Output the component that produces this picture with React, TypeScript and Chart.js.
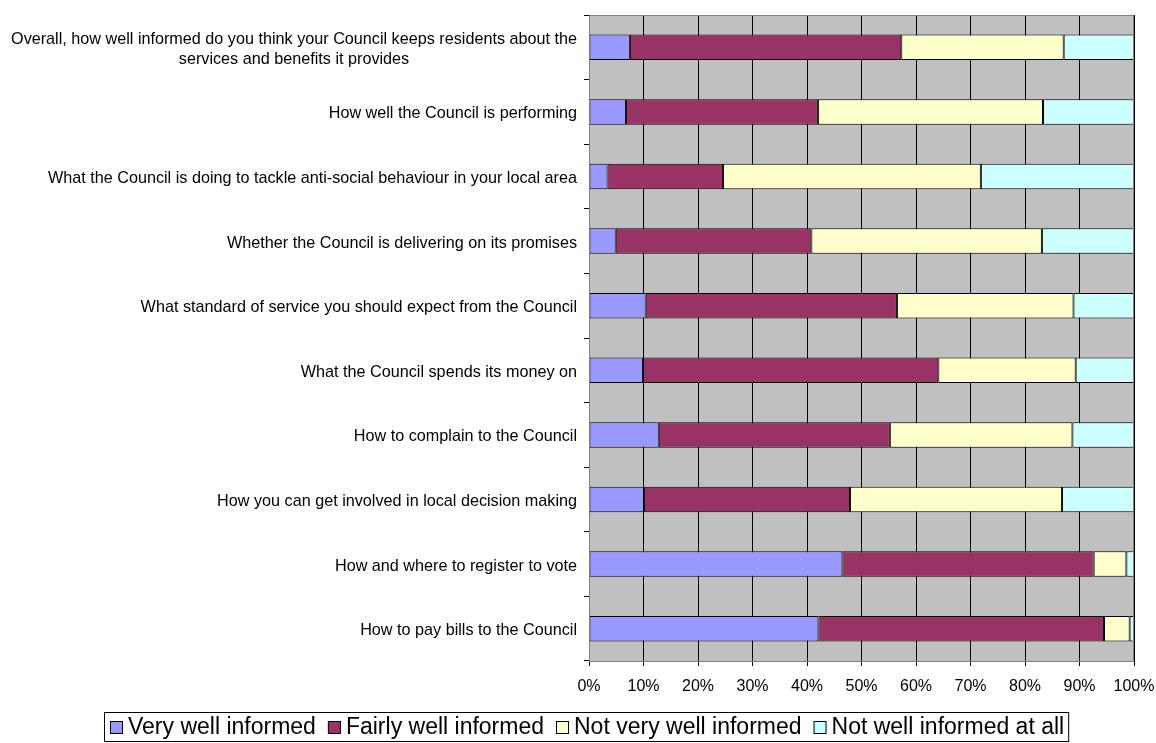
import React, { useEffect, useRef } from "react";
import { Chart, registerables } from "chart.js";

Chart.register(...registerables);

const categories: string[][] = [
  ["Overall, how well informed do you think your Council keeps residents about the", "services and benefits it provides"],
  ["How well the Council is performing"],
  ["What the Council is doing to tackle anti-social behaviour in your local area"],
  ["Whether the Council is delivering on its promises"],
  ["What standard of service you should expect from the Council"],
  ["What the Council spends its money on"],
  ["How to complain to the Council"],
  ["How you can get involved in local decision making"],
  ["How and where to register to vote"],
  ["How to pay bills to the Council"],
];

const veryWell = [7.5, 6.8, 3.4, 4.9, 10.4, 9.9, 12.8, 10.1, 46.5, 42.1];
const fairlyWell = [49.8, 35.2, 21.2, 35.9, 46.1, 54.2, 42.4, 37.8, 46.1, 52.4];
const notVeryWell = [29.8, 41.3, 47.3, 42.3, 32.4, 25.2, 33.5, 38.9, 6.0, 4.7];
const notAtAll = [12.9, 16.7, 28.1, 16.9, 11.1, 10.7, 11.3, 13.2, 1.4, 0.8];

const seriesNames = ["Very well informed", "Fairly well informed", "Not very well informed", "Not well informed at all"];
const seriesColors = ["#9999FF", "#993366", "#FFFFCC", "#CCFFFF"];
const xTicks = [0, 10, 20, 30, 40, 50, 60, 70, 80, 90, 100];

const FONT = "'Liberation Sans', Arial, sans-serif";
const LABEL_SIZE = 16.2;
const TICK_SIZE = 16;
const LEGEND_SIZE = 23;

const bgPlugin = {
  id: "plotBg",
  beforeDraw(chart: any) {
    const { ctx, chartArea: a } = chart;
    ctx.save();
    ctx.fillStyle = "#C0C0C0";
    ctx.fillRect(a.left, a.top, a.right - a.left, a.bottom - a.top);
    ctx.restore();
  },
  afterDraw(chart: any) {
    const { ctx, chartArea: a } = chart;
    ctx.save();
    ctx.strokeStyle = "#808080";
    ctx.lineWidth = 1;
    ctx.strokeRect(a.left + 0.5, a.top + 0.5, a.right - a.left - 1, a.bottom - a.top);
    // category labels
    const yScale = chart.scales.y;
    ctx.font = `${LABEL_SIZE}px ${FONT}`;
    ctx.fillStyle = "#000";
    ctx.textBaseline = "middle";
    ctx.textAlign = "center";
    const rightEdge = a.left - 12;
    const lineH = 20;
    categories.forEach((lines, i) => {
      const cy = yScale.getPixelForValue(i) + 2;
      const maxW = Math.max(...lines.map((l) => ctx.measureText(l).width));
      const cx = rightEdge - maxW / 2;
      const y0 = cy - ((lines.length - 1) * lineH) / 2;
      lines.forEach((l, j) => ctx.fillText(l, cx, y0 + j * lineH));
    });
    // legend
    ctx.font = `${LEGEND_SIZE}px ${FONT}`;
    const box = 13;
    const gap = 5;
    const itemGap = 12;
    const widths = seriesNames.map((n) => ctx.measureText(n).width);
    const total = widths.reduce((s, w) => s + box + gap + w, 0) + itemGap * (seriesNames.length - 1);
    const padX = 5;
    const legendTop = 712;
    const legendH = 29;
    const left = Math.round(586 - total / 2 - padX);
    ctx.strokeStyle = "#000";
    ctx.lineWidth = 1;
    ctx.strokeRect(left + 0.5, legendTop + 0.5, total + padX * 2, legendH);
    let x = left + padX + 1;
    const cy = legendTop + legendH / 2 + 1;
    ctx.textAlign = "left";
    seriesNames.forEach((n, i) => {
      ctx.fillStyle = seriesColors[i];
      ctx.fillRect(x, cy - box / 2, box, box);
      ctx.strokeStyle = "#000";
      ctx.strokeRect(x + 0.5, cy - box / 2 + 0.5, box - 1, box - 1);
      ctx.fillStyle = "#000";
      ctx.fillText(n, x + box + gap, cy);
      x += box + gap + widths[i] + itemGap;
    });
    ctx.restore();
  },
};

export default function App() {
  const ref = useRef<HTMLCanvasElement>(null);
  useEffect(() => {
    document.body.style.margin = "0";
    const datasets = [veryWell, fairlyWell, notVeryWell, notAtAll].map((d, i) => ({
      label: seriesNames[i],
      data: d,
      backgroundColor: seriesColors[i],
      borderColor: "#000000",
      borderWidth: 1,
      borderSkipped: false,
      barPercentage: 0.395,
      categoryPercentage: 1,
    }));
    const chart = new Chart(ref.current!, {
      type: "bar",
      data: { labels: categories.map((c) => c.join(" ")), datasets },
      options: {
        indexAxis: "y",
        animation: false,
        responsive: false,
        maintainAspectRatio: false,
        layout: { padding: { top: 15, right: 22, bottom: 42, left: 0 } },
        plugins: { legend: { display: false }, tooltip: { enabled: false } },
        scales: {
          x: {
            stacked: true,
            min: 0,
            max: 100,
            afterBuildTicks: (s: any) => {
              s.ticks = xTicks.map((v) => ({ value: v }));
            },
            ticks: {
              callback: (v: any) => `${v}%`,
              color: "#000",
              font: { family: FONT, size: TICK_SIZE },
              padding: 11,
              maxRotation: 0,
              autoSkip: false,
            },
            grid: { color: "#000", lineWidth: 1, tickLength: 5, drawTicks: true },
            border: { color: "#000" },
            afterFit: (s: any) => {
              s.height = 40;
              s.paddingLeft = 0;
              s.paddingRight = 0;
            },
          },
          y: {
            stacked: true,
            ticks: { display: false },
            grid: { drawOnChartArea: false, drawTicks: true, tickLength: 5, offset: true, color: "#000" },
            border: { color: "#000" },
            afterFit: (s: any) => {
              s.width = 589;
            },
          },
        },
      },
      plugins: [bgPlugin],
    });
    return () => chart.destroy();
  }, []);
  return (
    <div style={{ width: 1156, height: 743 }}>
      <canvas ref={ref} width={1156} height={743} style={{ display: "block" }} />
    </div>
  );
}
